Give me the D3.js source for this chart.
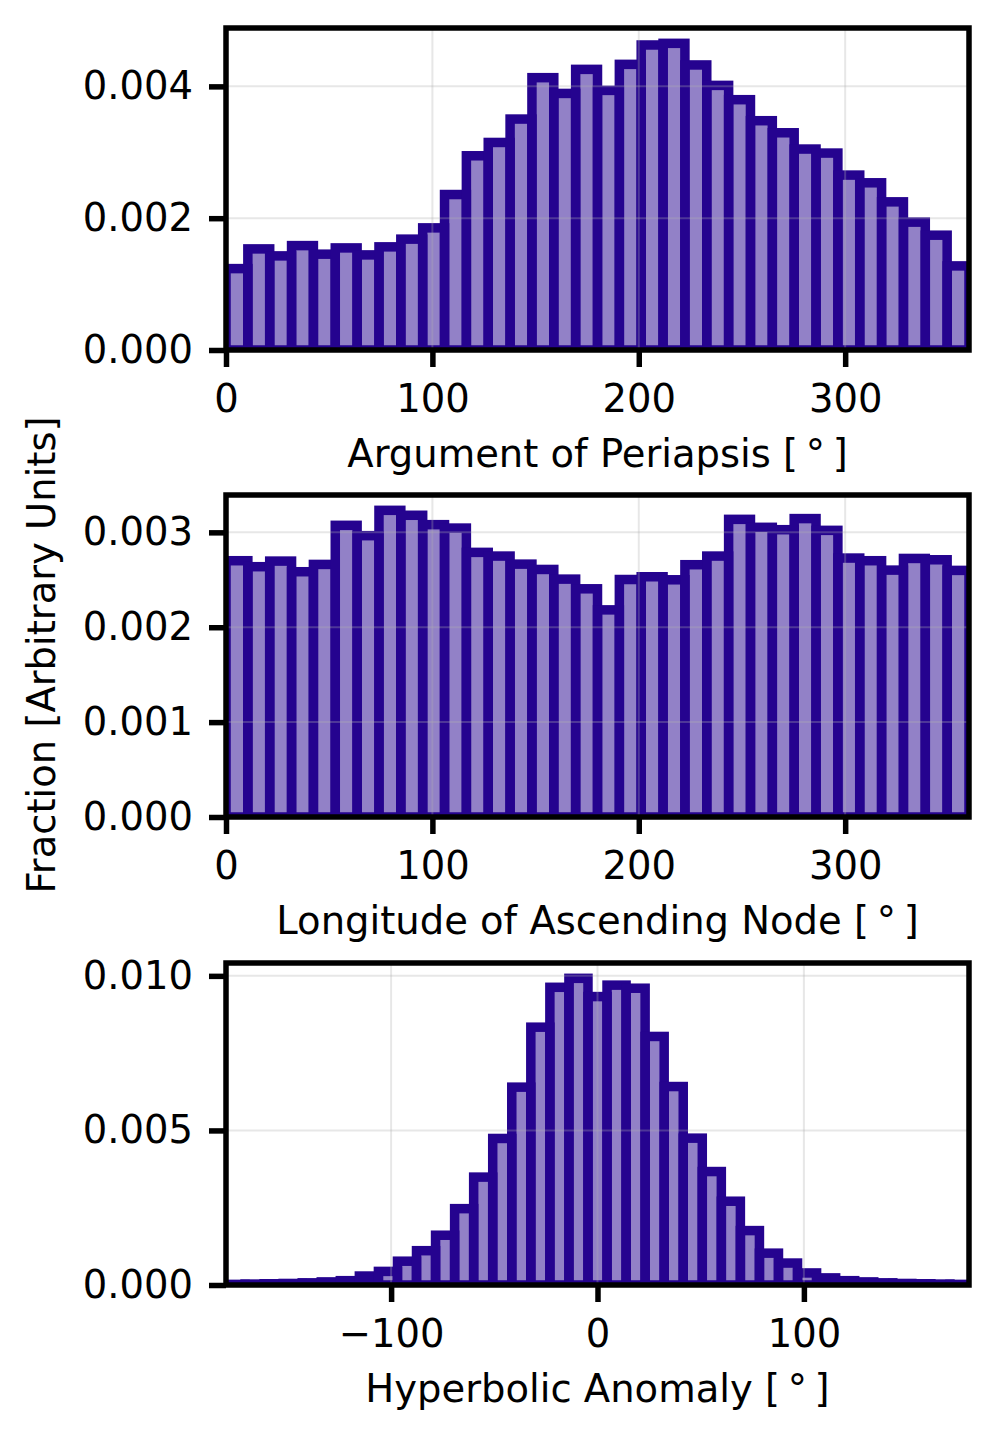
<!DOCTYPE html>
<html lang="en">
  <head>
    <meta charset="utf-8" />
    <title>Orbital angle histograms</title>
    <script src="https://d3js.org/d3.v7.min.js"></script>
    <style>
      body {
        margin: 0;
        background: #fff;
        font-family: "DejaVu Sans", sans-serif;
      }
      text {
        fill: #000;
        font-size: 38.5px;
      }
    </style>
  </head>
  <body>
    <svg id="chart" width="998" height="1442"></svg>
    <script>
      // histogram heights (fraction per bin)
      const periapsis = [
        0.001235, 0.001534, 0.001428, 0.001584, 0.001454, 0.001549, 0.001443,
        0.001565, 0.001682, 0.001853, 0.002359, 0.002947, 0.003149, 0.003504,
        0.004132, 0.003893, 0.004258, 0.003939, 0.004334, 0.004628, 0.004653,
        0.004325, 0.004015, 0.003798, 0.003479, 0.003296, 0.003049, 0.002988,
        0.002654, 0.002537, 0.002248, 0.00194, 0.001742, 0.001276,
      ];
      const node = [
        0.002701, 0.002638, 0.002697, 0.002585, 0.002662, 0.003074, 0.002965,
        0.003232, 0.00318, 0.003081, 0.003045, 0.002789, 0.00275, 0.002665,
        0.002609, 0.002507, 0.002405, 0.002183, 0.002503, 0.002532, 0.0025,
        0.002659, 0.00275, 0.003137, 0.003053, 0.003028, 0.003145, 0.003021,
        0.002729, 0.002701, 0.002602, 0.002725, 0.002711, 0.002599,
      ];
      const anomaly = [
        0.00002, 0.00003, 0.00004, 0.00005, 0.00007, 0.0001, 0.00014, 0.00029,
        0.00044, 0.00077, 0.00111, 0.00161, 0.00247, 0.00349, 0.00474, 0.0064,
        0.00834, 0.00963, 0.00992, 0.00933, 0.0097, 0.0096, 0.00804, 0.00642,
        0.00475, 0.00367, 0.00271, 0.00176, 0.00103, 0.00071, 0.00039, 0.00023,
        0.00014, 0.0001, 0.00007, 0.00005, 0.00004, 0.00003, 0.00002,
      ];

      const angleTicks = [0, 100, 200, 300];
      const anomalyTicks = [-100, 0, 100];

      const panels = [
        {
          values: periapsis,
          domain: [0, 360],
          xTicks: angleTicks,
          yTicks: [0, 0.002, 0.004],
          label: "Argument of Periapsis [\u2009°\u2009]",
          top: 28,
          bottom: 350,
        },
        {
          values: node,
          domain: [0, 360],
          xTicks: angleTicks,
          yTicks: [0, 0.001, 0.002, 0.003],
          label: "Longitude of Ascending Node [\u2009°\u2009]",
          top: 495,
          bottom: 817,
        },
        {
          values: anomaly,
          domain: [-180, 180],
          xTicks: anomalyTicks,
          yTicks: [0, 0.005, 0.01],
          label: "Hyperbolic Anomaly [\u2009°\u2009]",
          top: 963,
          bottom: 1285,
        },
      ];

      const color = "#25038f";
      const left = 226,
        right = 969;

      const svg = d3.select("#chart");

      panels.forEach((p, i) => {
        const x = d3.scaleLinear().domain(p.domain).range([left, right]);
        const y = d3
          .scaleLinear()
          .domain([0, d3.max(p.values) * 1.05])
          .range([p.bottom, p.top]);

        // equal-width bins spanning the x range
        const n = p.values.length;
        const w = (p.domain[1] - p.domain[0]) / n;
        const bins = p.values.map((v, k) => ({
          x0: p.domain[0] + k * w,
          x1: p.domain[0] + (k + 1) * w,
          v,
        }));

        const g = svg.append("g");

        g.append("clipPath")
          .attr("id", "clip" + i)
          .append("rect")
          .attr("x", left)
          .attr("y", p.top)
          .attr("width", right - left)
          .attr("height", p.bottom - p.top);

        g.append("g")
          .attr("clip-path", `url(#clip${i})`)
          .selectAll("rect")
          .data(bins)
          .join("rect")
          .attr("x", (d) => x(d.x0))
          .attr("width", (d) => x(d.x1) - x(d.x0))
          .attr("y", (d) => y(d.v))
          .attr("height", (d) => y(0) - y(d.v))
          .attr("fill", color)
          .attr("fill-opacity", 0.5)
          .attr("stroke", color)
          .attr("stroke-width", 9.5);

        // grid on top of the bars
        const grid = g.append("g").attr("stroke", "#b0b0b0").attr("stroke-opacity", 0.3).attr("stroke-width", 2);
        grid.selectAll(".gx")
          .data(p.xTicks)
          .join("line")
          .attr("x1", (d) => x(d))
          .attr("x2", (d) => x(d))
          .attr("y1", p.top)
          .attr("y2", p.bottom);
        grid.selectAll(".gy")
          .data(p.yTicks.slice(1))
          .join("line")
          .attr("x1", left)
          .attr("x2", right)
          .attr("y1", (d) => y(d))
          .attr("y2", (d) => y(d));

        // axes
        const xAxis = g
          .append("g")
          .attr("transform", `translate(0,${p.bottom})`)
          .call(d3.axisBottom(x).tickValues(p.xTicks).tickSize(17).tickPadding(18));
        const yAxis = g
          .append("g")
          .attr("transform", `translate(${left},0)`)
          .call(d3.axisLeft(y).tickValues(p.yTicks).tickFormat(d3.format(".3f")).tickSize(17).tickPadding(16));

        [xAxis, yAxis].forEach((a) => {
          a.select(".domain").remove();
          a.selectAll(".tick line").attr("stroke", "#000").attr("stroke-width", 5.5);
          a.selectAll(".tick text").attr("font-size", 38.5).attr("font-family", "DejaVu Sans");
        });

        // frame
        g.append("rect")
          .attr("x", left)
          .attr("y", p.top)
          .attr("width", right - left)
          .attr("height", p.bottom - p.top)
          .attr("fill", "none")
          .attr("stroke", "#000")
          .attr("stroke-width", 5.5);

        g.append("text")
          .attr("x", (left + right) / 2)
          .attr("y", p.bottom + 117)
          .attr("text-anchor", "middle")
          .text(p.label);
      });

      svg.append("text")
        .attr("transform", "translate(55,655) rotate(-90)")
        .attr("text-anchor", "middle")
        .text("Fraction [Arbitrary Units]");
    </script>
  </body>
</html>
